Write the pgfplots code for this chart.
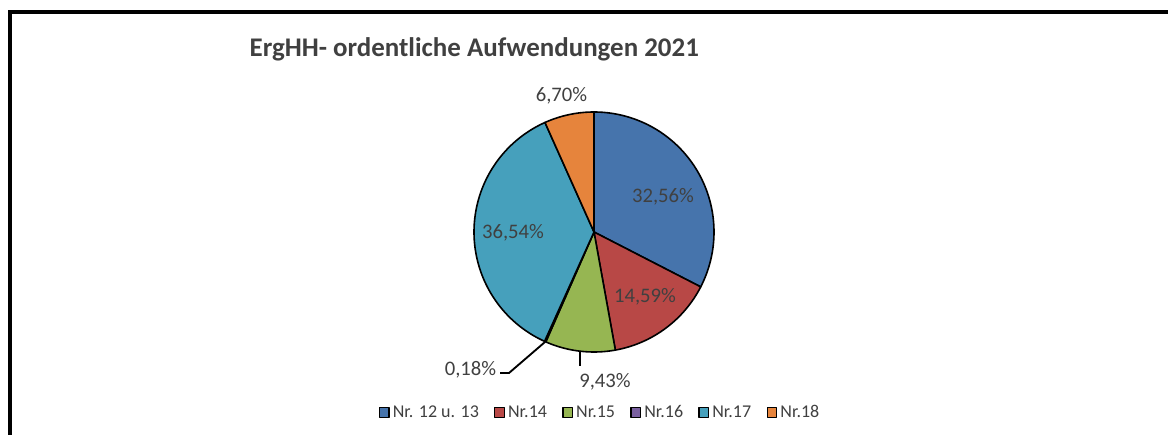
\documentclass[border=0pt]{standalone}
\usepackage{fontspec}
\setmainfont{Carlito}
\usepackage{pgfplots}
\pgfplotsset{compat=1.18}
\usepackage{pgfplotstable}

\definecolor{sblue}{RGB}{70,116,172}
\definecolor{sred}{RGB}{184,72,70}
\definecolor{sgreen}{RGB}{150,182,82}
\definecolor{spurple}{RGB}{122,96,160}
\definecolor{saqua}{RGB}{70,160,188}
\definecolor{sorange}{RGB}{230,132,60}
\definecolor{txt}{RGB}{64,64,64}

% share in percent, clockwise from 12 o'clock
\pgfplotstableread[col sep=comma]{
name,value,color
Nr. 12 u. 13,32.56,sblue
Nr.14,14.59,sred
Nr.15,9.43,sgreen
Nr.16,0.18,spurple
Nr.17,36.54,saqua
Nr.18,6.70,sorange
}\piedata

\begin{document}
\begin{tikzpicture}
\begin{axis}[
  at={(0pt,0pt)}, anchor=south west,
  x=0.75pt, y=0.75pt,
  xmin=0, xmax=1168, ymin=0, ymax=435,
  hide axis, clip=false,
  area legend,
  legend image code/.code={\draw[#1, draw=black, line width=0.9pt] (0pt,-3.5pt) rectangle (7pt,3.5pt);},
  legend columns=-1,
  legend style={at={(axis cs:379,22.5)}, anchor=west, draw=none, fill=none,
    inner sep=0pt, outer sep=0pt, text=txt,
    font=\fontsize{13.5}{16}\selectfont,
    nodes={inner sep=1.5pt},
    /tikz/every odd column/.append style={column sep=1pt},
    /tikz/every even column/.append style={column sep=10pt}},
  ]
\def\cum{0}
\pgfplotsforeachungrouped \i in {0,...,5}{%
  \pgfplotstablegetelem{\i}{value}\of\piedata \let\val\pgfplotsretval
  \pgfplotstablegetelem{\i}{color}\of\piedata \let\col\pgfplotsretval
  \pgfplotstablegetelem{\i}{name}\of\piedata \let\nam\pgfplotsretval
  \pgfmathsetmacro\sa{90-3.6*\cum}
  \pgfmathsetmacro\cum{\cum+\val}
  \pgfmathsetmacro\ea{90-3.6*\cum}
  \edef\doslice{\noexpand\addplot[draw=black, line width=1.2pt, line join=round,
      fill=\col, domain=\ea:\sa, samples=90]
    ({594+120*cos(x)}, {203+120*sin(x)}) -- (axis cs:594,203) -- cycle;
    \noexpand\addlegendentry{\nam}}%
  \doslice
}

% title
\node[anchor=base west, text=txt, font=\bfseries\fontsize{20.2}{24}\selectfont]
  at (axis cs:245,378) {ErgHH- ordentliche Aufwendungen 2021};

% data labels
\begin{scope}[every node/.style={text=txt, inner sep=0pt, font=\fontsize{15.5}{18}\selectfont}]
\node at (axis cs:663,238) {32,56\%};
\node at (axis cs:645,138) {14,59\%};
\node at (axis cs:513,202) {36,54\%};
\node at (axis cs:561.5,339) {6,70\%};
\node at (axis cs:605,53.5) {9,43\%};
\node at (axis cs:470.5,65) {0,18\%};
\end{scope}
\draw[line width=1.4pt] (axis cs:545,93) -- (axis cs:509,62) -- (axis cs:500,62);
\draw[line width=1.4pt] (axis cs:580,83) -- (axis cs:580,69);

% frame (open to the right and bottom)
\draw[line width=3pt, line join=miter] (axis cs:9.5,-20) -- (axis cs:9.5,422.5) -- (axis cs:1200,422.5);
\end{axis}
\pgfresetboundingbox
\path (0,0) rectangle (876pt,326.25pt);
\end{tikzpicture}
\end{document}
